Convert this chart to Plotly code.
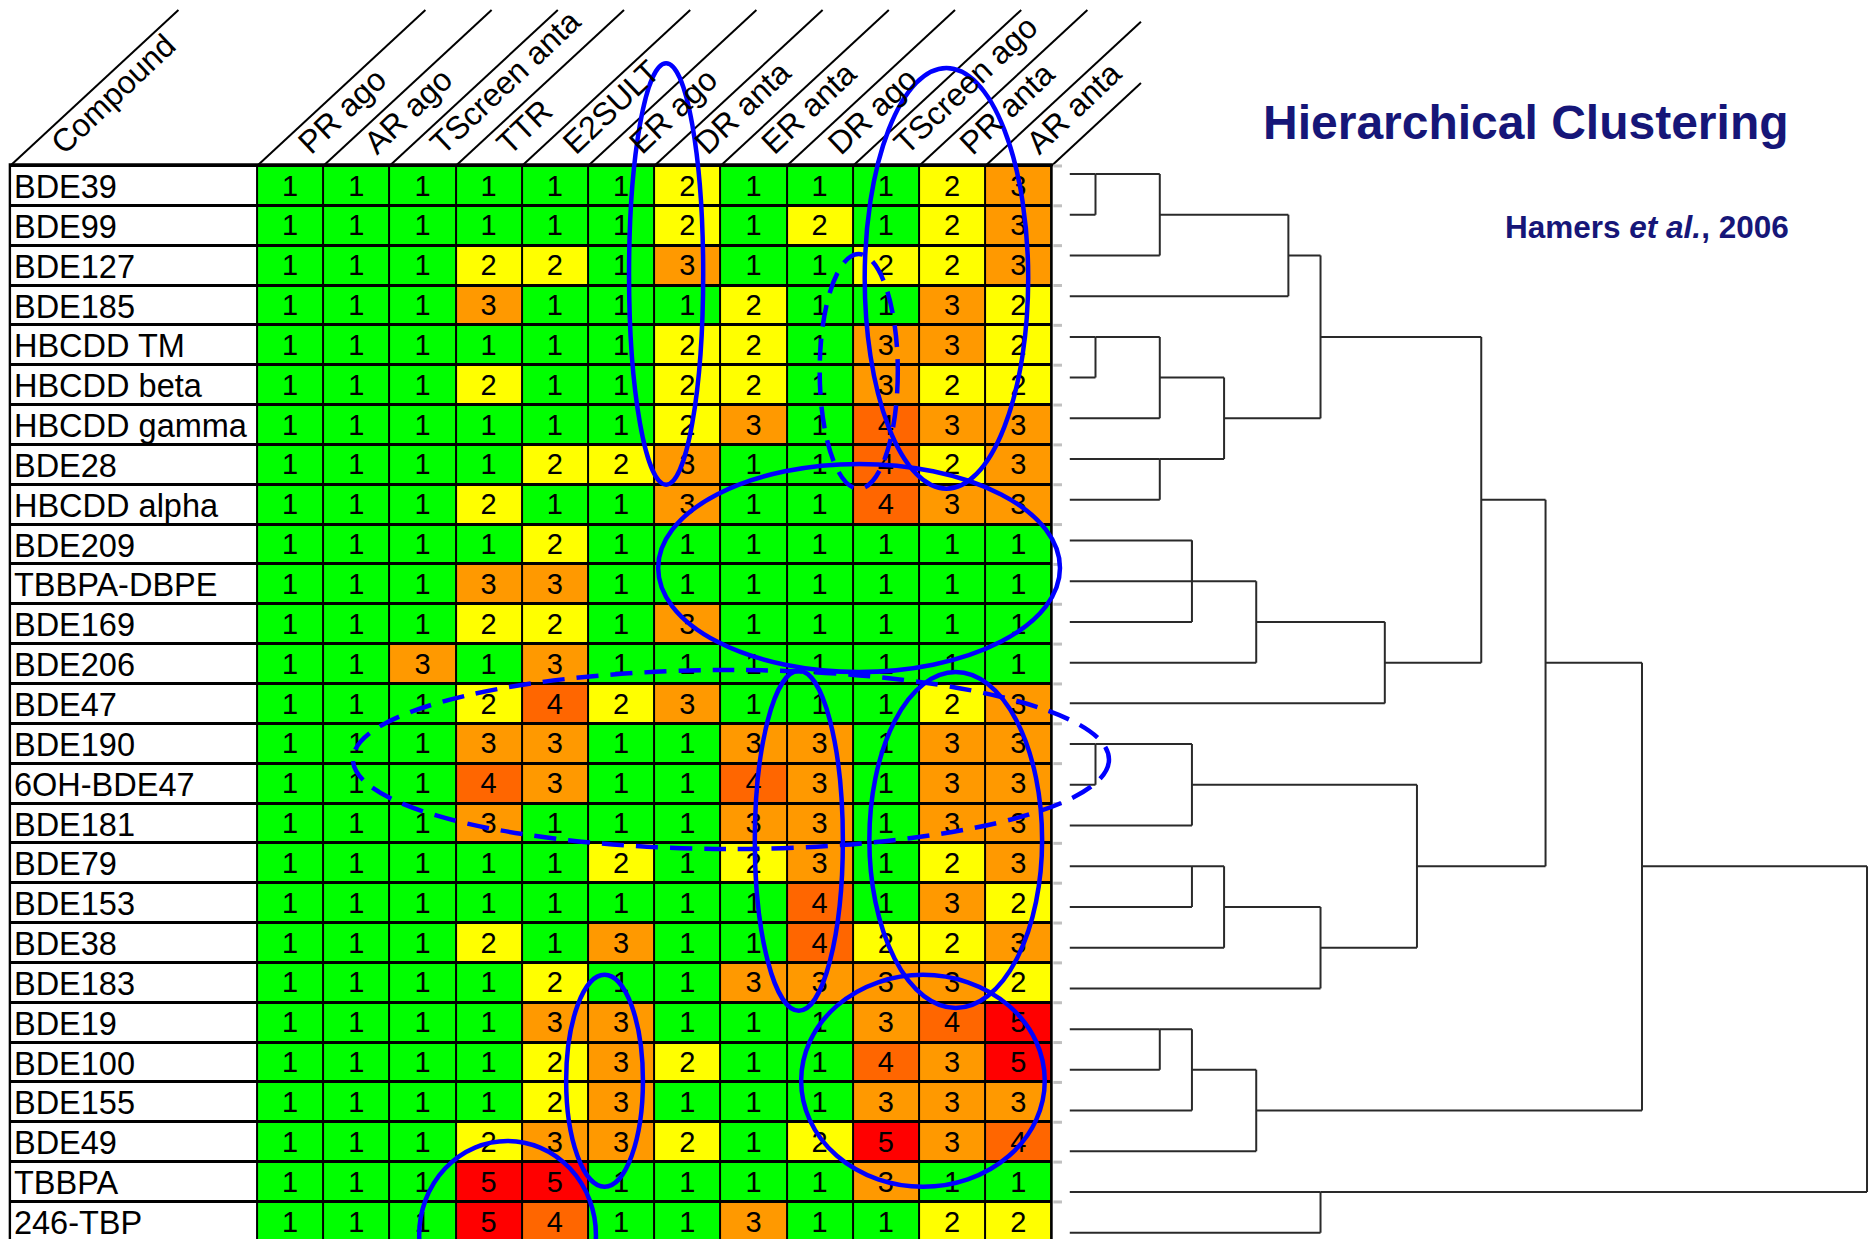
import plotly.graph_objects as go

# ---------------- data ----------------
compounds = ["BDE39", "BDE99", "BDE127", "BDE185", "HBCDD TM", "HBCDD beta", "HBCDD gamma",
             "BDE28", "HBCDD alpha", "BDE209", "TBBPA-DBPE", "BDE169", "BDE206", "BDE47",
             "BDE190", "6OH-BDE47", "BDE181", "BDE79", "BDE153", "BDE38", "BDE183", "BDE19",
             "BDE100", "BDE155", "BDE49", "TBBPA", "246-TBP"]
header_first = "Compound"
assays = ["PR ago", "AR ago", "TScreen anta", "TTR", "E2SULT", "ER ago", "DR anta",
          "ER anta", "DR ago", "TScreen ago", "PR anta", "AR anta"]

pr_ago =       [1, 1, 1, 1, 1, 1, 1, 1, 1, 1, 1, 1, 1, 1, 1, 1, 1, 1, 1, 1, 1, 1, 1, 1, 1, 1, 1]
ar_ago =       [1, 1, 1, 1, 1, 1, 1, 1, 1, 1, 1, 1, 1, 1, 1, 1, 1, 1, 1, 1, 1, 1, 1, 1, 1, 1, 1]
tscreen_anta = [1, 1, 1, 1, 1, 1, 1, 1, 1, 1, 1, 1, 3, 1, 1, 1, 1, 1, 1, 1, 1, 1, 1, 1, 1, 1, 1]
ttr =          [1, 1, 2, 3, 1, 2, 1, 1, 2, 1, 3, 2, 1, 2, 3, 4, 3, 1, 1, 2, 1, 1, 1, 1, 2, 5, 5]
e2sult =       [1, 1, 2, 1, 1, 1, 1, 2, 1, 2, 3, 2, 3, 4, 3, 3, 1, 1, 1, 1, 2, 3, 2, 2, 3, 5, 4]
er_ago =       [1, 1, 1, 1, 1, 1, 1, 2, 1, 1, 1, 1, 1, 2, 1, 1, 1, 2, 1, 3, 1, 3, 3, 3, 3, 1, 1]
dr_anta =      [2, 2, 3, 1, 2, 2, 2, 3, 3, 1, 1, 3, 1, 3, 1, 1, 1, 1, 1, 1, 1, 1, 2, 1, 2, 1, 1]
er_anta =      [1, 1, 1, 2, 2, 2, 3, 1, 1, 1, 1, 1, 1, 1, 3, 4, 3, 2, 1, 1, 3, 1, 1, 1, 1, 1, 3]
dr_ago =       [1, 2, 1, 1, 1, 1, 1, 1, 1, 1, 1, 1, 1, 1, 3, 3, 3, 3, 4, 4, 3, 1, 1, 1, 2, 1, 1]
tscreen_ago =  [1, 1, 2, 1, 3, 3, 4, 4, 4, 1, 1, 1, 1, 1, 1, 1, 1, 1, 1, 2, 3, 3, 4, 3, 5, 3, 1]
pr_anta =      [2, 2, 2, 3, 3, 2, 3, 2, 3, 1, 1, 1, 1, 2, 3, 3, 3, 2, 3, 2, 3, 4, 3, 3, 3, 1, 2]
ar_anta =      [3, 3, 3, 2, 2, 2, 3, 3, 3, 1, 1, 1, 1, 3, 3, 3, 3, 3, 2, 3, 2, 5, 5, 3, 4, 1, 2]

# dendrogram merges (SPSS rescaled distance 0-25); leaves 0..26, new nodes numbered from 27
merge_left =     [0, 27, 28, 4, 30, 7, 31, 29, 9, 35, 36, 37, 34, 14, 40, 17, 42, 43, 41, 39, 21, 47, 48, 46, 25, 50]
merge_right =    [1, 2, 3, 5, 6, 8, 32, 33, 10, 11, 12, 13, 38, 15, 16, 18, 19, 20, 44, 45, 22, 23, 24, 49, 26, 51]
merge_distance = [1, 3, 7, 1, 3, 3, 5, 8, 4, 4, 6, 10, 13, 1, 4, 4, 5, 8, 11, 15, 3, 4, 6, 18, 8, 25]

title_text = "<b>Hierarchical Clustering</b>"
source_text = "<b>Hamers <i>et al.</i>, 2006</b>"

# ---------------- styling ----------------
W, H = 1870, 1239
FONT = "Liberation Sans, Arial, Helvetica, sans-serif"
score_colors = ["#FFFFFF", "#00FF00", "#FFFF00", "#FF9900", "#FF6600", "#FF0000"]
label_left = -4.231     # left edge of compound-label column (in column units)
header_top = -4.414     # top of header diagonal lines (row units)
header_right = 12.853   # right clip of header diagonals (column units)
diag_slope = 0.650      # column units per row unit
leaf_start = 0.2

columns = [pr_ago, ar_ago, tscreen_anta, ttr, e2sult, er_ago, dr_anta, er_anta,
           dr_ago, tscreen_ago, pr_anta, ar_anta]
n_rows = len(compounds)
n_cols = len(assays)

z = [[0] + [col[r] for col in columns] for r in range(n_rows)]

cs = []
nc = len(score_colors)
for i, c in enumerate(score_colors):
    cs.append([i / nc, c])
    cs.append([(i + 1) / nc, c])

x_edges = [label_left] + [i - 0.5 for i in range(n_cols + 1)]
y_edges = [r - 0.5 for r in range(n_rows + 1)]

fig = go.Figure()

# black backing for grid lines
fig.add_shape(type="rect", xref="x", yref="y", x0=label_left - 0.02, x1=n_cols - 0.5 + 0.02,
              y0=-0.57, y1=n_rows - 0.5 + 0.05, fillcolor="black", line_width=0, layer="below")

fig.add_trace(go.Heatmap(
    z=z, x=x_edges, y=y_edges,
    colorscale=cs, zmin=-0.5, zmax=nc - 0.5, showscale=False,
    xgap=2, ygap=3, hoverinfo="skip", xaxis="x", yaxis="y"))

# cell values
vx, vy, vt = [], [], []
for ci, col in enumerate(columns):
    for r, v in enumerate(col):
        vx.append(ci)
        vy.append(r + 0.06)
        vt.append(str(v))
fig.add_trace(go.Scatter(
    x=vx, y=vy, text=vt, mode="text", textposition="middle center",
    textfont=dict(family=FONT, size=29, color="black"),
    hoverinfo="skip", showlegend=False, xaxis="x", yaxis="y"))

# row labels
fig.add_trace(go.Scatter(
    x=[label_left + 0.06] * n_rows, y=[r + 0.1 for r in range(n_rows)], text=compounds,
    mode="text", textposition="middle right",
    textfont=dict(family=FONT, size=32.5, color="black"),
    hoverinfo="skip", showlegend=False, xaxis="x", yaxis="y"))

# header diagonals
hx, hy = [], []
for b in x_edges:
    dy = -0.5 - header_top
    ex, ey = b + diag_slope * dy, header_top
    if ex > header_right:
        ex = header_right
        ey = -0.5 - (header_right - b) / diag_slope
    hx += [b, ex, None]
    hy += [-0.5, ey, None]
fig.add_trace(go.Scatter(x=hx, y=hy, mode="lines", line=dict(color="black", width=2),
                         hoverinfo="skip", showlegend=False, xaxis="x", yaxis="y"))

# header labels
for b, lab in zip(x_edges[:-1], [header_first] + assays):
    fig.add_annotation(x=b + 0.47, y=-0.55, xref="x", yref="y", text=lab,
                       textangle=-43.5, xanchor="left", yanchor="bottom", showarrow=False,
                       font=dict(family=FONT, size=32, color="black"))

# small grey ticks at row boundaries
tx, ty = [], []
for yb in y_edges:
    tx += [11.53, 11.66, None]
    ty += [yb, yb, None]
fig.add_trace(go.Scatter(x=tx, y=ty, mode="lines", line=dict(color="#c0c0c0", width=3),
                         hoverinfo="skip", showlegend=False, xaxis="x", yaxis="y"))

# dendrogram
pos = {i: (leaf_start, float(i)) for i in range(n_rows)}
dx, dyl = [], []
node = n_rows
for a, b, h in zip(merge_left, merge_right, merge_distance):
    xa, ya = pos[a]
    xb, yb = pos[b]
    dx += [xa, h, None, xb, h, None, h, h, None]
    dyl += [ya, ya, None, yb, yb, None, ya, yb, None]
    pos[node] = (h, float(int((ya + yb) // 2)))
    node += 1
fig.add_trace(go.Scatter(x=dx, y=dyl, mode="lines", line=dict(color="#2a2a2a", width=2),
                         hoverinfo="skip", showlegend=False, xaxis="x2", yaxis="y2"))

# highlight ellipses (cell units)
ellipses = [
    (5.12, 6.24, -3.08, 7.50, "solid"),
    (8.68, 11.15, -2.96, 7.60, "solid"),
    (8.00, 9.18, 1.71, 7.60, "dash"),
    (5.56, 11.63, 6.98, 12.20, "solid"),
    (0.95, 12.37, 12.15, 16.64, "dash"),
    (7.02, 8.35, 12.17, 20.70, "solid"),
    (8.75, 11.36, 12.20, 20.63, "solid"),
    (4.17, 5.33, 19.80, 25.12, "solid"),
    (1.95, 4.62, 23.97, 28.69, "solid"),
    (7.72, 11.40, 19.80, 25.12, "solid"),
]
for x0, x1, y0, y1, d in ellipses:
    fig.add_shape(type="circle", xref="x", yref="y", x0=x0, x1=x1, y0=y0, y1=y1,
                  line=dict(color="#0000FF", width=4.5,
                            dash="22px,12px" if d == "dash" else "solid"),
                  fillcolor="rgba(0,0,0,0)")

# titles
fig.add_annotation(x=1791 / W, y=1 - 122 / H, xref="paper", yref="paper", text=title_text,
                   xanchor="right", yanchor="middle", showarrow=False,
                   font=dict(family=FONT, size=48, color="#161678"))
fig.add_annotation(x=1791 / W, y=1 - 227 / H, xref="paper", yref="paper", text=source_text,
                   xanchor="right", yanchor="middle", showarrow=False,
                   font=dict(family=FONT, size=31.5, color="#161678"))

fig.update_layout(
    width=W, height=H, margin=dict(l=0, r=0, t=0, b=0),
    paper_bgcolor="white", plot_bgcolor="rgba(0,0,0,0)", showlegend=False,
    xaxis=dict(domain=[0, 1], range=[-4.3822, 23.866], visible=False),
    yaxis=dict(domain=[0, 1], range=[26.43, -4.665], visible=False),
    xaxis2=dict(domain=[1063.35 / W, 1], range=[0, 25.093], visible=False, anchor="y2"),
    yaxis2=dict(domain=[0, 1], range=[26.154, -4.273], visible=False, anchor="x2"),
)

fig.write_html("out.html", config={"displayModeBar": False},
               post_script="document.body.style.margin='0';document.body.style.overflow='hidden';")
